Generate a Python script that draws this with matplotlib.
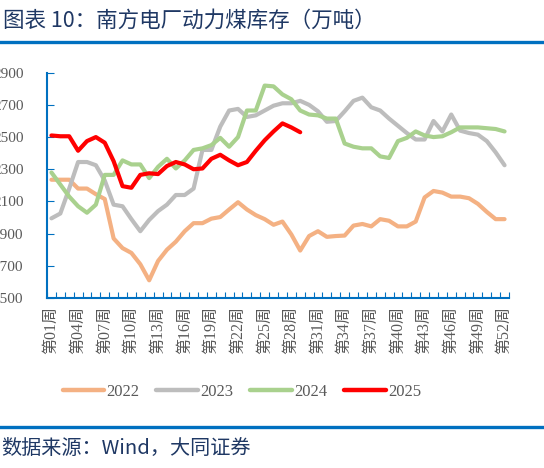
import matplotlib.pyplot as plt
from matplotlib.ticker import FixedLocator

# weekly inventory, 10k tonnes
weeks = list(range(1, 53))
y2022 = [2235, 2235, 2235, 2180, 2180, 2145, 2115, 1870, 1810, 1780,
         1710, 1610, 1730, 1800, 1850, 1915, 1965, 1965, 1993, 2003,
         2050, 2095, 2050, 2015, 1990, 1955, 1975, 1895, 1795, 1885,
         1915, 1880, 1885, 1888, 1950, 1960, 1945, 1990, 1980, 1945,
         1945, 1975, 2125, 2165, 2155, 2130, 2130, 2120, 2085, 2035,
         1990, 1990]
y2023 = [1995, 2025, 2180, 2345, 2345, 2325, 2230, 2080, 2070, 1990,
         1915, 1985, 2040, 2080, 2140, 2140, 2180, 2420, 2420, 2565,
         2665, 2675, 2625, 2635, 2665, 2695, 2710, 2710, 2725, 2700,
         2660, 2595, 2600, 2660, 2725, 2745, 2685, 2665, 2615, 2570,
         2525, 2485, 2485, 2600, 2535, 2640, 2540, 2525, 2515, 2475,
         2405, 2325]
y2024 = [2280, 2205, 2130, 2070, 2030, 2080, 2265, 2265, 2355, 2330,
         2330, 2245, 2315, 2365, 2305, 2355, 2420, 2430, 2450, 2495,
         2440, 2500, 2665, 2665, 2820, 2815, 2765, 2735, 2665, 2640,
         2635, 2615, 2615, 2460, 2440, 2430, 2430, 2380, 2370, 2475,
         2495, 2535, 2510, 2500, 2505, 2530, 2560, 2560, 2560, 2555,
         2550, 2535]
y2025 = [2510, 2505, 2505, 2415, 2475, 2500, 2465, 2350, 2195, 2185,
         2265, 2275, 2270, 2320, 2345, 2330, 2300, 2305, 2365, 2390,
         2355, 2325, 2345, 2415, 2480, 2535, 2585, 2560, 2530]

series = [
    ("2022", y2022, "#F4B183"),
    ("2023", y2023, "#BDBDBD"),
    ("2024", y2024, "#A9D18E"),
    ("2025", y2025, "#FF0000"),
]
yticks = [1500, 1700, 1900, 2100, 2300, 2500, 2700, 2900]
label_weeks = list(range(1, 53, 3))

blue = "#0070C0"
navy = "#1F3864"
grey_txt = "#595959"
serif = ["Liberation Serif", "Noto Sans CJK SC"]

fig = plt.figure(figsize=(5.44, 4.68), dpi=100)
ax = fig.add_axes([47 / 544, 1 - 298 / 468, 462 / 544, 225.3 / 468])

for name, vals, col in series:
    ax.plot(weeks[:len(vals)], vals, color=col, lw=3, label=name,
            solid_capstyle="round", solid_joinstyle="round")

ax.set_xlim(0.5, 52.5)
ax.set_ylim(1500, 2900)
ax.set_yticks(yticks)
ax.set_yticklabels([str(v) for v in yticks], family=serif, fontsize=11,
                   color=grey_txt)
ax.tick_params(axis="y", direction="in", length=5, color=blue, pad=17)

# boundary ticks for every week, labels every third week
ax.xaxis.set_major_locator(FixedLocator([w + 0.5 for w in range(0, 53)]))
ax.xaxis.set_major_formatter(plt.NullFormatter())
ax.tick_params(axis="x", which="major", direction="in", length=4, color=blue)
ax.xaxis.set_minor_locator(FixedLocator(label_weeks))
ax.set_xticklabels([f"第{w:02d}周" for w in label_weeks], minor=True,
                   rotation=90, family=serif, fontsize=11.5, color=grey_txt)
ax.tick_params(axis="x", which="minor", length=0, pad=6)

for s in ["top", "right"]:
    ax.spines[s].set_visible(False)
for s in ["left", "bottom"]:
    ax.spines[s].set_color(blue)
    ax.spines[s].set_linewidth(1.5)

leg = fig.legend(loc="center", bbox_to_anchor=(242 / 544, 1 - 392 / 468),
                 ncol=4, frameon=False, handlelength=2.5, handletextpad=0.15,
                 columnspacing=1.0, prop={"family": serif, "size": 12})
for t in leg.get_texts():
    t.set_color(grey_txt)
for h in leg.get_lines():
    h.set_linewidth(3.2)

fig.text(0.005, 1 - 21 / 468, "图表 10：南方电厂动力煤库存（万吨）",
         family=["Noto Sans CJK SC"], fontsize=15.5, color=navy,
         va="center", ha="left")
fig.add_artist(plt.Line2D([0, 1], [1 - 42 / 468] * 2, color=blue, lw=2.4))
fig.add_artist(plt.Line2D([0, 1], [1 - 427 / 468] * 2, color=blue, lw=2.4))
fig.text(0.003, 1 - 448 / 468, "数据来源：Wind，大同证券",
         family=["Noto Sans CJK SC"], fontsize=14.5, color=navy,
         va="center", ha="left")

fig.savefig("out.png", dpi=100)
